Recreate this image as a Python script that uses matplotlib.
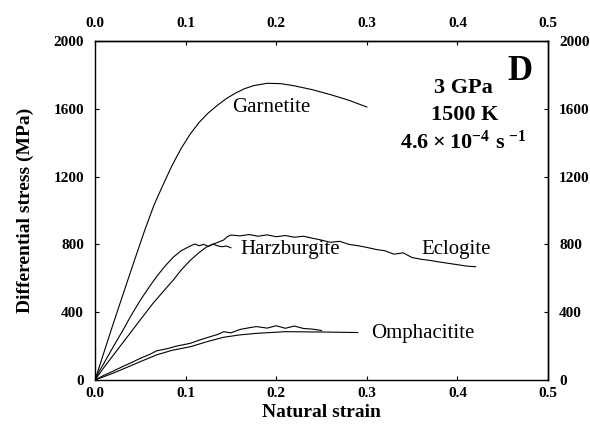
import numpy as np
import matplotlib
matplotlib.use("Agg")
import matplotlib.pyplot as plt

plt.rcParams['font.family'] = ['Liberation Serif', 'DejaVu Serif']
plt.rcParams['mathtext.fontset'] = 'custom'
plt.rcParams['mathtext.rm'] = 'Liberation Serif'
plt.rcParams['mathtext.bf'] = 'Liberation Serif:bold'

# stress-strain curves (natural strain, MPa)
garnetite_strain = [0.0, 0.02, 0.04, 0.055, 0.065, 0.075, 0.085, 0.095, 0.105, 0.115, 0.125,
                    0.135, 0.145, 0.155, 0.165, 0.175, 0.19, 0.205, 0.22, 0.24, 0.26, 0.28, 0.30]
garnetite_stress = [0, 330, 650, 885, 1030, 1150, 1265, 1365, 1450, 1520, 1575,
                    1620, 1660, 1692, 1718, 1736, 1750, 1748, 1735, 1712, 1683, 1650, 1610]

harz_strain = [0.0, 0.005, 0.01, 0.02, 0.031, 0.04, 0.05, 0.06, 0.068, 0.077, 0.0865, 0.095,
               0.105, 0.11, 0.115, 0.12, 0.125, 0.13, 0.135, 0.14, 0.145, 0.15]
harz_stress = [0, 55, 100, 195, 295, 382, 470, 550, 610, 670, 725, 762,
               790, 802, 792, 800, 788, 802, 792, 786, 790, 780]

eclog_strain = [0.0, 0.01, 0.02, 0.03, 0.04, 0.05, 0.064, 0.075, 0.0865, 0.095, 0.105, 0.115,
                0.123, 0.13, 0.137, 0.142, 0.146, 0.15, 0.16, 0.17, 0.18, 0.19, 0.20, 0.21,
                0.22, 0.23, 0.24, 0.25, 0.26, 0.27, 0.28, 0.29, 0.30, 0.31, 0.32, 0.33,
                0.34, 0.35, 0.36, 0.37, 0.38, 0.39, 0.40, 0.41, 0.42]
eclog_stress = [0, 75, 145, 215, 285, 355, 452, 520, 590, 648, 705, 752,
                784, 800, 815, 826, 845, 855, 850, 858, 848, 856, 845, 852,
                842, 848, 836, 825, 812, 818, 800, 792, 782, 770, 762, 742,
                750, 722, 712, 705, 696, 688, 680, 672, 668]

omph1_strain = [0.0, 0.01, 0.02, 0.03, 0.04, 0.05, 0.06, 0.068, 0.08, 0.09, 0.105, 0.115,
                0.125, 0.135, 0.142, 0.15, 0.16, 0.17, 0.178, 0.19, 0.20, 0.21, 0.22, 0.23,
                0.24, 0.25]
omph1_stress = [0, 28, 52, 78, 102, 128, 150, 172, 185, 200, 216, 235,
                252, 268, 285, 278, 298, 308, 315, 306, 320, 305, 318, 304,
                300, 292]

omph2_strain = [0.0, 0.02, 0.05, 0.068, 0.085, 0.105, 0.125, 0.142, 0.16, 0.178, 0.21, 0.25, 0.29]
omph2_stress = [0, 40, 108, 148, 175, 196, 228, 252, 266, 275, 285, 283, 280]

x_ticks = [0.0, 0.1, 0.2, 0.3, 0.4, 0.5]
y_ticks = [0, 400, 800, 1200, 1600, 2000]

fig = plt.figure(figsize=(5.9, 4.26), dpi=100)
ax = fig.add_axes([0.161, 0.108, 0.768, 0.796])

for xs, ys in [(garnetite_strain, garnetite_stress), (harz_strain, harz_stress),
               (eclog_strain, eclog_stress), (omph1_strain, omph1_stress),
               (omph2_strain, omph2_stress)]:
    ax.plot(xs, ys, color='black', lw=0.8)

ax.set_xlim(0, 0.5)
ax.set_ylim(0, 2000)
ax.set_xticks(x_ticks)
ax.set_yticks(y_ticks)
ax.set_xticklabels([f"{t:.1f}" for t in x_ticks], fontweight='bold', fontsize=11)
ax.set_yticklabels([str(t) for t in y_ticks], fontweight='bold', fontsize=11)
ax.tick_params(axis='x', direction='in', length=3, width=0.8, pad=5)
ax.tick_params(axis='y', direction='in', length=3, width=0.8, pad=8)

# mirrored scales on top and right
top = ax.secondary_xaxis('top')
top.set_xticks(x_ticks)
top.set_xticklabels([f"{t:.1f}" for t in x_ticks], fontweight='bold', fontsize=11)
top.tick_params(direction='in', length=3, width=0.8, pad=8)
right = ax.secondary_yaxis('right')
right.set_yticks(y_ticks)
right.set_yticklabels([str(t) for t in y_ticks], fontweight='bold', fontsize=11)
right.tick_params(direction='in', length=3, width=0.8, pad=8)

for s in ax.spines.values():
    s.set_linewidth(1.0)
top.spines['top'].set_linewidth(1.0)
right.spines['right'].set_linewidth(1.0)

ax.set_xlabel("Natural strain", fontweight='bold', fontsize=14, labelpad=3)
ax.set_ylabel("Differential stress (MPa)", fontweight='bold', fontsize=14, labelpad=14)

# curve labels
ax.text(0.194, 1605, "Garnetite", ha='center', va='center', fontsize=15)
ax.text(0.215, 767, "Harzburgite", ha='center', va='center', fontsize=15)
ax.text(0.398, 767, "Eclogite", ha='center', va='center', fontsize=15)
ax.text(0.362, 277, "Omphacitite", ha='center', va='center', fontsize=15)

# run conditions
ax.text(0.406, 1722, "3 GPa", ha='center', va='center', fontsize=16, fontweight='bold')
ax.text(0.408, 1563, "1500 K", ha='center', va='center', fontsize=16, fontweight='bold')
ax.text(0.406, 1405, r"$\mathbf{4.6 \times 10^{-4}\ s\,^{-1}}$", ha='center', va='center',
        fontsize=16)
ax.text(0.469, 1817, "D", ha='center', va='center', fontsize=25, fontweight='bold')

fig.savefig("out.png", dpi=100)
